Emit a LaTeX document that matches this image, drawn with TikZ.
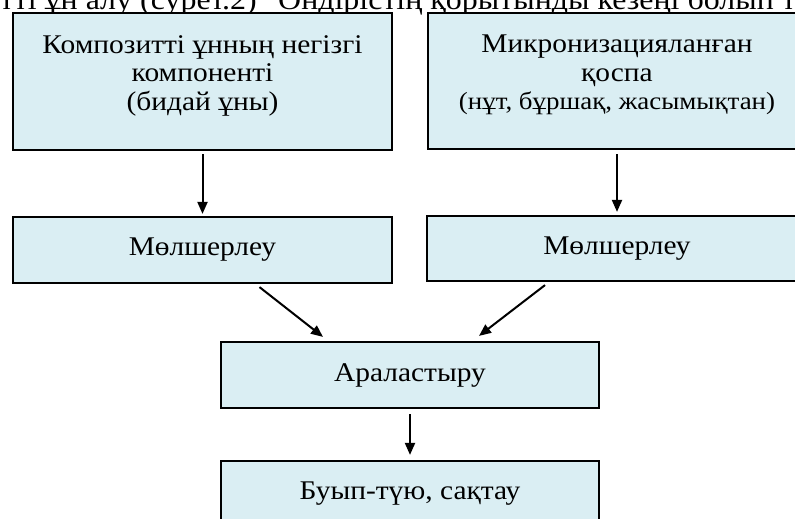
\documentclass[tikz,border=0pt]{standalone}
\usepackage{fontspec}
\setmainfont{Liberation Serif}[FakeStretch=1.09]
\usetikzlibrary{arrows.meta}
\definecolor{boxfill}{HTML}{DAEEF3}
\begin{document}
\begin{tikzpicture}[x=1pt,y=-1pt,
  box/.style={draw=black, line width=2.2pt, fill=boxfill, align=center,
    font=\fontsize{27}{28.5}\selectfont, inner sep=0pt},
  txt/.style={align=center, font=\fontsize{27}{28.5}\selectfont, inner sep=0pt},
  arr/.style={line width=2pt, -{Triangle[length=12pt,width=10pt]}},
  body/.style={font=\fontsize{29.3}{30}\selectfont, inner sep=0pt}]
\useasboundingbox (0,0) rectangle (795,519);
\clip (0,0) rectangle (795,519);
\node[body, anchor=base east] (t1) at (257,9.5) {тті ұн алу (сурет.2)};
\node[body, anchor=base west] (t2) at (278,9.5) {Өндірістің қорытынды кезеңі болып т};
\node[box, minimum width=379pt, minimum height=137pt] (b1) at (202.5,81.5) {};
\node[txt] (b1t) at ([yshift=6pt]b1.center)
  {Композитті ұнның негізгі\\компоненті\\(бидай ұны)};
\node[box, minimum width=378pt, minimum height=136pt] (b2) at (617,81) {};
\node[txt] (b2t) at ([yshift=6pt]b2.center)
  {Микронизацияланған\\қоспа\\{\fontsize{24.7}{28.5}\selectfont(нұт, бұршақ, жасымықтан)}};
\node[box, minimum width=379pt, minimum height=66pt] (b3) at (202.5,250) {Мөлшерлеу};
\node[box, minimum width=380pt, minimum height=65pt] (b4) at (617,248.5) {Мөлшерлеу};
\node[box, minimum width=378pt, minimum height=66pt] (b5) at (410,375) {Араластыру};
\node[box, minimum width=378pt, minimum height=66pt] (b6) at (410,494) {Буып-түю, сақтау};
\draw[arr, shorten <=3pt, shorten >=2pt] (b1) -- (b3.north);
\draw[arr, shorten <=4pt, shorten >=3pt] (b2) -- (b4.north);
\draw[arr] ([xshift=57pt,yshift=-3pt]b3.south) -- ([xshift=-87pt,yshift=4pt]b5.north);
\draw[arr] ([xshift=-72pt,yshift=-3pt]b4.south) -- ([xshift=69pt,yshift=5pt]b5.north);
\draw[arr, shorten <=5pt, shorten >=5pt] (b5) -- (b6.north);
\end{tikzpicture}
\end{document}
